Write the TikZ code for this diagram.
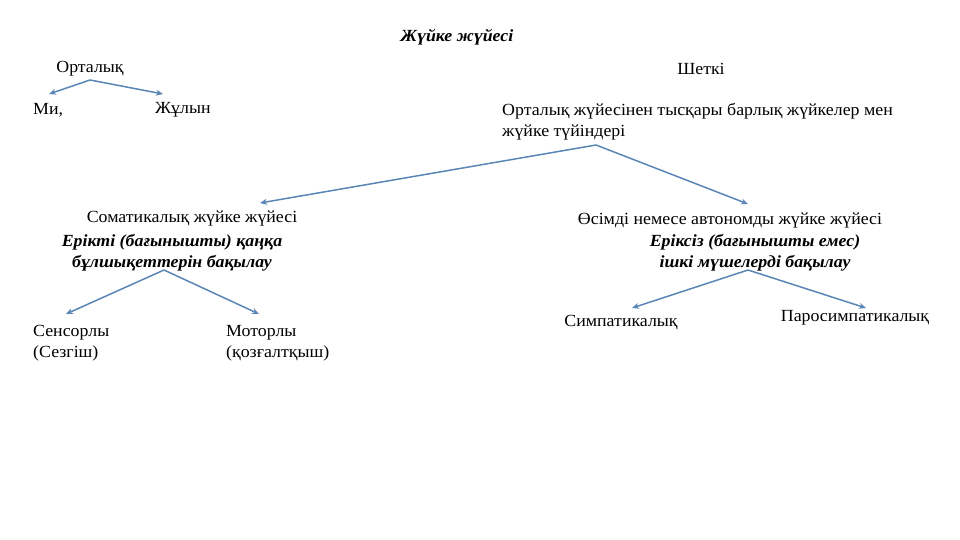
\documentclass[tikz,border=0pt]{standalone}
\usepackage{fontspec}
\setmainfont[FakeStretch=1.05]{Liberation Serif}
\usetikzlibrary{arrows.meta}
\definecolor{arr}{HTML}{5A86B6}
\tikzset{
  lbl/.style={inner sep=0pt, font=\fontsize{17}{21}\selectfont},
  blbl/.style={inner sep=0pt, font=\fontsize{17}{21}\selectfont\bfseries\itshape, align=center},
  conn/.style={draw=arr, line width=1.5pt, -{Stealth[length=7pt,width=6pt]}}
}
\begin{document}
\begin{tikzpicture}[x=1pt,y=-1pt]
\useasboundingbox (0,0) rectangle (960,540);
\node[blbl] (title) at (457,37) {Жүйке жүйесі};
\node[lbl] (orta) at (90,69) {Орталық};
\node[lbl] (shetki) at (701,69) {Шеткі};
\node[lbl, anchor=west] (mi) at (33,110) {Ми,};
\node[lbl, anchor=west] (zhulyn) at (155,110) {Жұлын};
\node[lbl, anchor=north west, align=left] (periph) at (502,103) {Орталық жүйесінен тысқары барлық жүйкелер мен\\жүйке түйіндері};
\node[lbl] (soma) at (192,218) {Соматикалық жүйке жүйесі};
\node[blbl] (somad) at (172,253) {Ерікті (бағынышты) қаңқа\\бұлшықеттерін бақылау};
\node[lbl, anchor=north west, align=left] (sens) at (33,325) {Сенсорлы\\(Сезгіш)};
\node[lbl, anchor=north west, align=left] (motor) at (226,325) {Моторлы\\(қозғалтқыш)};
\node[lbl] (auto) at (730,220) {Өсімді немесе автономды жүйке жүйесі};
\node[blbl] (autod) at (755,253) {Еріксіз (бағынышты емес)\\ішкі мүшелерді бақылау};
\node[lbl] (symp) at (621,323) {Симпатикалық};
\node[lbl] (para) at (855,318) {Паросимпатикалық};
% connector ends
\coordinate (o1) at (90,80);
\coordinate (miT) at (49,94);
\coordinate (zhT) at (163,94);
\coordinate (o2) at (596,145);
\coordinate (somaT) at (260,203);
\coordinate (autoT) at (748,204);
\coordinate (o3) at (164,270);
\coordinate (sensT) at (66,314);
\coordinate (motorT) at (259,314);
\coordinate (o4) at (748,270);
\coordinate (sympT) at (632,308);
\coordinate (paraT) at (866,308);
\draw[conn] (o1) -- (miT);
\draw[conn] (o1) -- (zhT);
\draw[conn] (o2) -- (somaT);
\draw[conn] (o2) -- (autoT);
\draw[conn] (o3) -- (sensT);
\draw[conn] (o3) -- (motorT);
\draw[conn] (o4) -- (sympT);
\draw[conn] (o4) -- (paraT);
\end{tikzpicture}
\end{document}
